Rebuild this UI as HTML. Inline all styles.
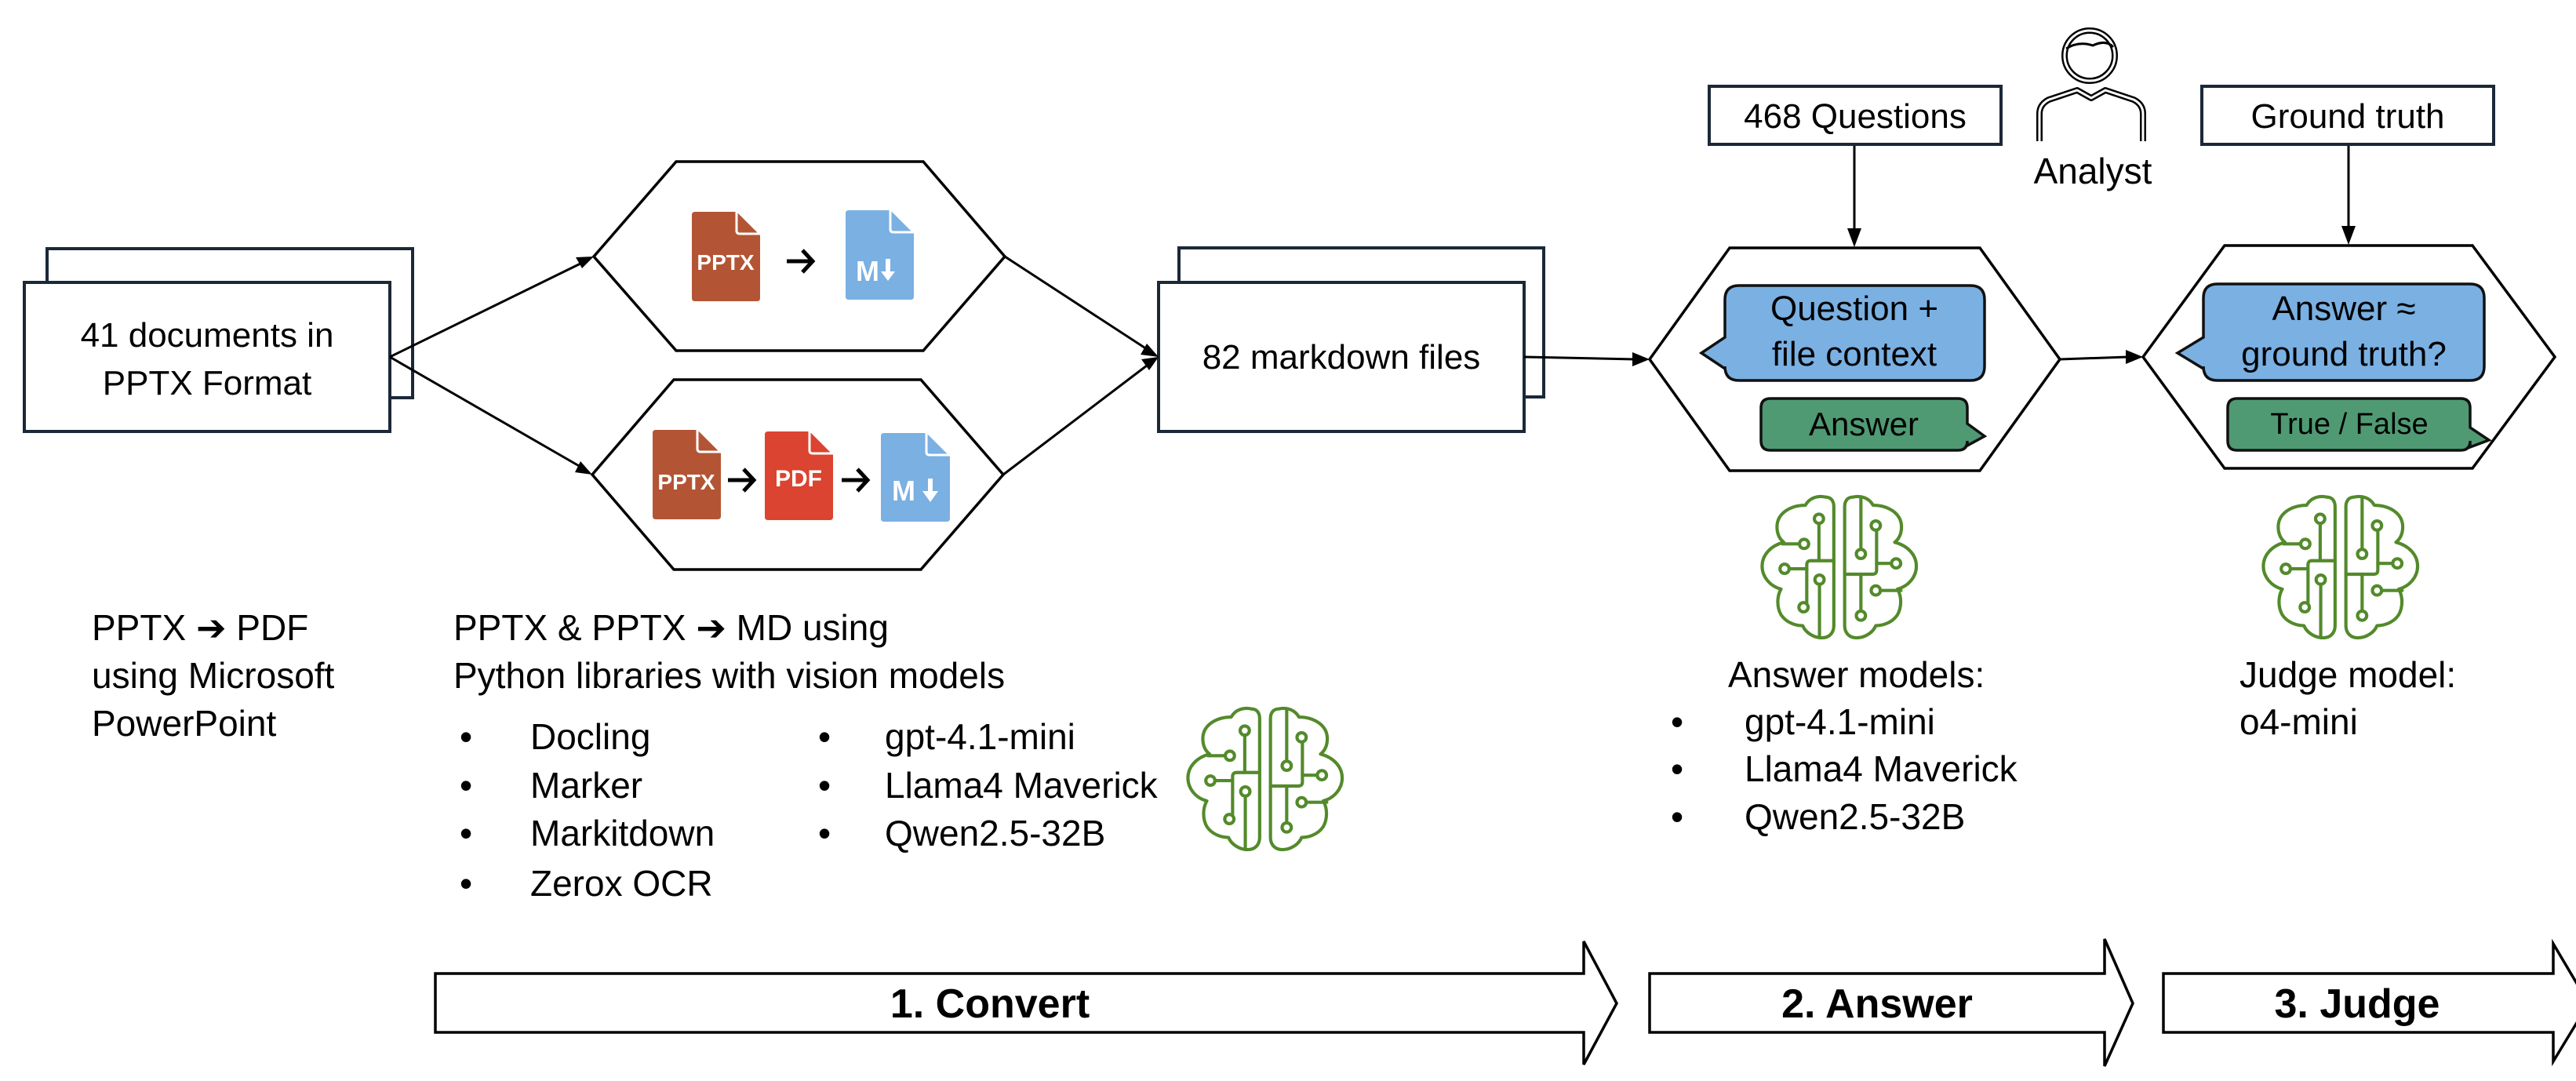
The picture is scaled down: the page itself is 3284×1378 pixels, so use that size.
<!DOCTYPE html>
<html><head><meta charset="utf-8"><style>
html,body{margin:0;padding:0;background:#fff;}
svg{display:block;}
text{font-family:"Liberation Sans",sans-serif;}
.ar{font-family:"DejaVu Sans","Liberation Sans",sans-serif;font-weight:bold;}
</style></head><body>
<svg width="3284" height="1378" viewBox="0 0 3284 1378" xmlns="http://www.w3.org/2000/svg">
<defs>
<g id="brain" fill="none" stroke="#538A2B" stroke-width="12" stroke-linecap="round" stroke-linejoin="round">
  <path d="M300,115 C270,108 240,118 225,145 C170,145 120,175 120,225 C120,250 130,270 145,282 C95,295 65,330 65,370 C65,410 95,445 135,455 C120,480 118,520 135,550 C155,580 190,590 215,590 C225,615 255,635 285,635 C315,635 330,615 330,590 L330,150 C330,128 318,115 300,115 Z"/>
  <path transform="translate(700,0) scale(-1,1)" d="M300,115 C270,108 240,118 225,145 C170,145 120,175 120,225 C120,250 130,270 145,282 C95,295 65,330 65,370 C65,410 95,445 135,455 C120,480 118,520 135,550 C155,580 190,590 215,590 C225,615 255,635 285,635 C315,635 330,615 330,590 L330,150 C330,128 318,115 300,115 Z"/>
  <circle cx="275" cy="195" r="17"/><path d="M275,212 V350"/>
  <path d="M330,350 H245 Q230,350 230,365 V504"/><circle cx="218" cy="522" r="17"/>
  <circle cx="220" cy="288" r="17"/><path d="M140,288 H203"/>
  <circle cx="148" cy="380" r="17"/><path d="M165,380 H230"/>
  <circle cx="277" cy="420" r="17"/><path d="M277,437 V635"/>
  <path d="M430,120 V308"/><circle cx="430" cy="325" r="17"/>
  <circle cx="485" cy="220" r="17"/><path d="M488,237 V385 Q488,400 473,400 H370"/>
  <path d="M488,360 H543"/><circle cx="560" cy="360" r="17"/>
  <path d="M430,400 V536"/><circle cx="430" cy="553" r="17"/>
  <circle cx="485" cy="460" r="17"/><path d="M502,460 H578"/>
</g>
<path id="iarr" d="M0,0 H32 M20,-14 L33,0 L20,14" fill="none" stroke="#000" stroke-width="5" stroke-linecap="butt" stroke-linejoin="miter"/>
</defs>

<rect x="60" y="317" width="466" height="190" fill="#fff" stroke="#1b2838" stroke-width="4"/>
<rect x="31" y="360" width="466" height="190" fill="#fff" stroke="#1b2838" stroke-width="4"/>
<text x="264" y="442" font-size="44" text-anchor="middle">41 documents in</text>
<text x="264" y="503" font-size="44" text-anchor="middle">PPTX Format</text>

<rect x="1503" y="316" width="465" height="190" fill="#fff" stroke="#1b2838" stroke-width="4"/>
<rect x="1477" y="360" width="466" height="190" fill="#fff" stroke="#1b2838" stroke-width="4"/>
<text x="1710" y="470" font-size="44" text-anchor="middle">82 markdown files</text>

<g fill="#fff" stroke="#000" stroke-width="3.5">
<polygon points="757,327 862,206 1177,206 1281,327 1177,447 862,447"/>
<polygon points="755,605 859,484 1174,484 1279,605 1174,726 859,726"/>
<polygon points="2103,458 2205,316 2524,316 2626,458 2524,600 2205,600"/>
<polygon points="2732,455 2836,313 3152,313 3257,455 3152,597 2836,597"/>
</g>

<g stroke="#000" stroke-width="3" fill="none">
<path d="M497,455 L740,336"/>
<path d="M497,455 L740,595"/>
<path d="M1281,327 L1462,445"/>
<path d="M1279,605 L1462,466"/>
<path d="M1943,455 L2084,458"/>
<path d="M2626,458 L2713,455"/>
<path d="M2364,184 V295"/>
<path d="M2994,184 V292"/>
</g>
<g fill="#000">
<polygon points="757,327 734,328 742,342"/>
<polygon points="755,605 740,588 733,602" />
<polygon points="1477,455 1462,438 1454,452"/>
<polygon points="1477,455 1455,458 1465,472"/>
<polygon points="2103,458 2081,449 2081,467"/>
<polygon points="2732,455 2710,446 2710,464"/>
<polygon points="2364,315 2355,291 2373,291"/>
<polygon points="2994,312 2985,288 3003,288"/>
</g>

<g>
<path d="M886,270 H939 L969,300 V380 Q969,384 965,384 H886 Q882,384 882,380 V274 Q882,270 886,270Z" fill="#B35535"/>
<path d="M939,268 V294 Q939,298 943,298 H971" fill="none" stroke="#fff" stroke-width="3"/>
<text x="925" y="344" font-size="28" font-weight="bold" fill="#fff" text-anchor="middle">PPTX</text>
<use href="#iarr" transform="translate(1003,333)"/>
<path d="M1082,268 H1135 L1165,298 V378 Q1165,382 1161,382 H1082 Q1078,382 1078,378 V272 Q1078,268 1082,268Z" fill="#7AB0E2"/>
<path d="M1135,266 V292 Q1135,296 1139,296 H1167" fill="none" stroke="#fff" stroke-width="3"/>
<text x="1106" y="358" font-size="36" font-weight="bold" fill="#fff" text-anchor="middle">M</text>
<path d="M1129,330 H1135 V346 H1141 L1132,358 L1123,346 H1129Z" fill="#fff"/>
</g>
<g>
<path d="M836,548 H889 L919,578 V658 Q919,662 915,662 H836 Q832,662 832,658 V552 Q832,548 836,548Z" fill="#B35535"/>
<path d="M889,546 V572 Q889,576 893,576 H921" fill="none" stroke="#fff" stroke-width="3"/>
<text x="875" y="624" font-size="28" font-weight="bold" fill="#fff" text-anchor="middle">PPTX</text>
<use href="#iarr" transform="translate(928,612)"/>
<path d="M979,550 H1032 L1062,580 V659 Q1062,663 1058,663 H979 Q975,663 975,659 V554 Q975,550 979,550Z" fill="#DB4430"/>
<path d="M1032,548 V574 Q1032,578 1036,578 H1064" fill="none" stroke="#fff" stroke-width="3"/>
<text x="1018" y="620" font-size="30" font-weight="bold" fill="#fff" text-anchor="middle">PDF</text>
<use href="#iarr" transform="translate(1073,612)"/>
<path d="M1127,552 H1181 L1211,582 V661 Q1211,665 1207,665 H1127 Q1123,665 1123,661 V556 Q1123,552 1127,552Z" fill="#7AB0E2"/>
<path d="M1181,550 V576 Q1181,580 1185,580 H1213" fill="none" stroke="#fff" stroke-width="3"/>
<text x="1152" y="638" font-size="36" font-weight="bold" fill="#fff" text-anchor="middle">M</text>
<path d="M1183,610 H1189 V626 H1196 L1186,640 L1176,626 H1183Z" fill="#fff"/>
</g>

<rect x="2179" y="110" width="372" height="74" fill="#fff" stroke="#1b2838" stroke-width="4"/>
<text x="2365" y="163" font-size="44" text-anchor="middle">468 Questions</text>
<rect x="2807" y="110" width="372" height="74" fill="#fff" stroke="#1b2838" stroke-width="4"/>
<text x="2993" y="163" font-size="44" text-anchor="middle">Ground truth</text>

<g fill="none" stroke-linejoin="round">
<circle cx="2664" cy="71" r="32" stroke="#000" stroke-width="8"/>
<circle cx="2664" cy="71" r="32" stroke="#fff" stroke-width="3"/>
<path d="M2634,62 Q2650,52 2668,58 Q2685,50 2694,60" stroke="#000" stroke-width="3"/>
<path d="M2600,180 V145 Q2600,133 2612,127 L2648,115 L2666,125 L2684,115 L2720,127 Q2732,133 2732,145 V180" stroke="#000" stroke-width="8"/>
<path d="M2600,182 V145 Q2600,133 2612,127 L2648,115 L2666,125 L2684,115 L2720,127 Q2732,133 2732,145 V182" stroke="#fff" stroke-width="3"/>
</g>
<text x="2668" y="234" font-size="46" text-anchor="middle">Analyst</text>

<path d="M2217,364 H2512 Q2530,364 2530,382 V467 Q2530,485 2512,485 H2217 Q2199,485 2199,467 V470 L2169,450 L2199,430 V382 Q2199,364 2217,364Z" fill="#7AB0E2" stroke="#111" stroke-width="3.5"/>
<text x="2364" y="408" font-size="44" text-anchor="middle">Question +</text>
<text x="2364" y="466" font-size="44" text-anchor="middle">file context</text>
<path d="M2257,508 H2496 Q2508,508 2508,520 V540 L2530,556 L2508,568 V562 Q2508,574 2496,574 H2257 Q2245,574 2245,562 V520 Q2245,508 2257,508Z" fill="#4F9A73" stroke="#111" stroke-width="3.5"/>
<text x="2376" y="555" font-size="42" text-anchor="middle">Answer</text>

<path d="M2827,362 H3149 Q3167,362 3167,380 V467 Q3167,485 3149,485 H2827 Q2809,485 2809,467 V470 L2776,450 L2809,430 V380 Q2809,362 2827,362Z" fill="#7AB0E2" stroke="#111" stroke-width="3.5"/>
<text x="2988" y="408" font-size="44" text-anchor="middle">Answer ≈</text>
<text x="2988" y="466" font-size="44" text-anchor="middle">ground truth?</text>
<path d="M2852,508 H3137 Q3149,508 3149,520 V545 L3173,561 L3149,570 V562 Q3149,574 3137,574 H2852 Q2840,574 2840,562 V520 Q2840,508 2852,508Z" fill="#4F9A73" stroke="#111" stroke-width="3.5"/>
<text x="2995" y="553" font-size="38" text-anchor="middle">True / False</text>

<use href="#brain" transform="translate(2224,594) scale(0.345)"/>
<use href="#brain" transform="translate(2863,594) scale(0.345)"/>
<use href="#brain" transform="translate(1492,864) scale(0.345)"/>

<g font-size="46">
<text x="117" y="816">PPTX <tspan class="ar">➔</tspan> PDF</text>
<text x="117" y="877">using Microsoft</text>
<text x="117" y="938">PowerPoint</text>
<text x="578" y="816">PPTX &amp; PPTX <tspan class="ar">➔</tspan> MD using</text>
<text x="578" y="877">Python libraries with vision models</text>
<text x="586" y="955">•</text><text x="676" y="955">Docling</text>
<text x="586" y="1017">•</text><text x="676" y="1017">Marker</text>
<text x="586" y="1078">•</text><text x="676" y="1078">Markitdown</text>
<text x="586" y="1142">•</text><text x="676" y="1142">Zerox OCR</text>
<text x="1043" y="955">•</text><text x="1128" y="955">gpt-4.1-mini</text>
<text x="1043" y="1017">•</text><text x="1128" y="1017">Llama4 Maverick</text>
<text x="1043" y="1078">•</text><text x="1128" y="1078">Qwen2.5-32B</text>
<text x="2203" y="876">Answer models:</text>
<text x="2130" y="936">•</text><text x="2224" y="936">gpt-4.1-mini</text>
<text x="2130" y="996">•</text><text x="2224" y="996">Llama4 Maverick</text>
<text x="2130" y="1057">•</text><text x="2224" y="1057">Qwen2.5-32B</text>
<text x="2855" y="876">Judge model:</text>
<text x="2855" y="936">o4-mini</text>
</g>

<g fill="#fff" stroke="#000" stroke-width="3.5" stroke-linejoin="miter">
<polygon points="555,1241 2019,1241 2019,1200 2061,1279 2019,1357 2019,1316 555,1316"/>
<polygon points="2103,1241 2683,1241 2683,1197 2719,1279 2683,1359 2683,1316 2103,1316"/>
<polygon points="2758,1241 3255,1241 3255,1203 3300,1279 3255,1353 3255,1316 2758,1316"/>
</g>
<g font-size="52" font-weight="bold" text-anchor="middle">
<text x="1262" y="1297">1. Convert</text>
<text x="2393" y="1297">2. Answer</text>
<text x="3005" y="1297">3. Judge</text>
</g>
</svg>
</body></html>
